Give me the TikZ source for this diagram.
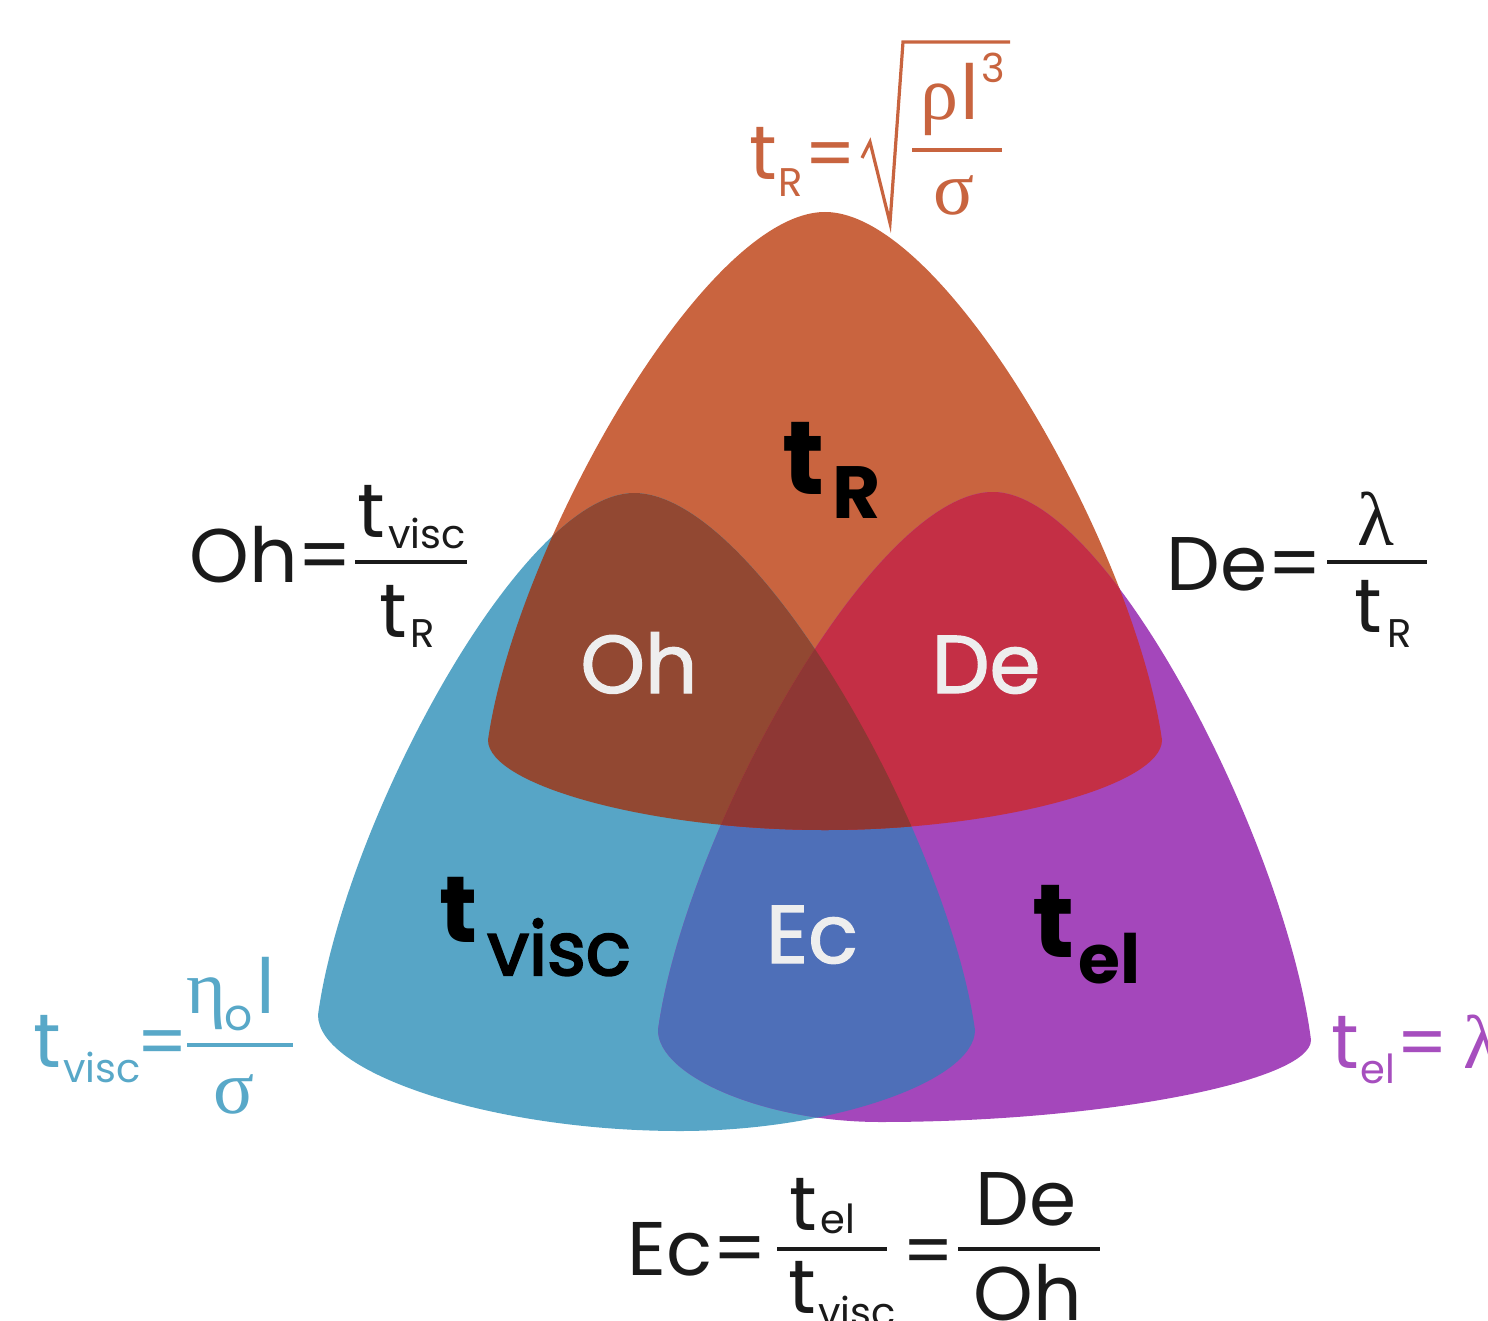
\documentclass[tikz,border=0pt]{standalone}
\usepackage{fontspec}
\setmainfont{Poppins}
\newfontfamily\gr{Liberation Serif}
\newfontfamily\pmed[BoldFont=Poppins, BoldFeatures={FakeBold=1.6}]{Poppins}
\newfontfamily\psemi[BoldFont=Poppins, BoldFeatures={FakeBold=2.8}]{Poppins}
\definecolor{cOr}{HTML}{C9643F}
\definecolor{cBl}{HTML}{57A5C6}
\definecolor{cPu}{HTML}{A447BB}
\definecolor{cOh}{HTML}{924832}
\definecolor{cDe}{HTML}{C42F45}
\definecolor{cEc}{HTML}{4E6FB8}
\definecolor{cCe}{HTML}{8E3734}
\definecolor{tOr}{HTML}{C8643F}
\definecolor{tBl}{HTML}{58A8C8}
\definecolor{tPu}{HTML}{A64EBE}
\definecolor{tBk}{HTML}{1A1A1A}
\definecolor{tWh}{HTML}{EEEEEE}
\newcommand\fs[1]{\fontsize{#1}{#1}\selectfont}
\tikzset{
 blob/.style n args={8}{insert path={(#1,#2) .. controls ({#1-0.36*(#1-#3)},#2) and ({#3+0.08*(#1-#3)},{#2+0.64*(#4-#2)}) .. (#3,#4) .. controls (#3,{#4+0.5*(#8-#4)}) and ({#7-0.52*(#7-#3)},#8) .. (#7,#8) .. controls ({#7+0.52*(#5-#7)},#8) and (#5,{#6+0.5*(#8-#6)}) .. (#5,#6) .. controls ({#5-0.08*(#5-#1)},{#2+0.64*(#6-#2)}) and ({#1+0.36*(#5-#1)},#2) .. cycle}},
 shA/.style={blob={825}{212}{488}{740}{1162}{740}{825}{830}},
 shB/.style={blob={634}{493}{318}{1015}{975}{1030}{680}{1131}},
 shC/.style={blob={993}{492}{658}{1030}{1311}{1040}{880}{1122}},
 txt/.style={inner sep=0pt, anchor=base west},
 ctxt/.style={inner sep=0pt, anchor=base},
 bar/.style={line width=2pt},
}
\begin{document}
\begin{tikzpicture}[x=0.5pt,y=-0.5pt]
\useasboundingbox (0,0) rectangle (1488,1321);
\clip (0,0) rectangle (1488,1321);
% shapes
\fill[cOr, shA];
\fill[cBl, shB];
\fill[cPu, shC];
\begin{scope}
 \clip[shB];
 \fill[cEc, shC];
\end{scope}
\begin{scope}
 \clip[shA];
 \fill[cOh, shB];
 \fill[cDe, shC];
 \clip[shB];
 \fill[cCe, shC];
\end{scope}
% labels inside shapes
\node[txt, text=black] (Lt1) at (782,494) {\fs{52}\bfseries t};
\node[txt, text=black] (Lr1) at (832,518) {\fs{37}\bfseries R};
\node[txt, text=black] (Lt2) at (439,942) {\fs{47}\bfseries t};
\node[txt, text=black] (Lv2) at (487,975) {\fs{37}\psemi\bfseries visc};
\node[txt, text=black] (Lt3) at (1032,957) {\fs{52}\bfseries t};
\node[txt, text=black] (Le3) at (1078,983) {\fs{34}\bfseries el};
\node[ctxt, text=tWh] (LOh) at (639,693) {\fs{41}\pmed\bfseries Oh};
\node[ctxt, text=tWh] (LDe) at (986,693) {\fs{41}\pmed\bfseries De};
\node[ctxt, text=tWh] (LEc) at (812,963) {\fs{41}\pmed\bfseries Ec};
% top formula
\begin{scope}[text=tOr]
 \node[txt] (a1) at (749,180) {\fs{38}t};
 \node[txt] (a2) at (778,197) {\fs{20}R};
 \node[txt] (a3) at (804,180) {\fs{36}=};
 \draw[tOr, line width=1.6pt, line join=miter] (862,158) -- (870,142) -- (890,223) -- (903,42) -- (1010,42);
 \node[txt] (a4) at (920,120) {\fs{38}\gr ρ};
 \node[txt] (a5) at (960,120) {\fs{38}l};
 \node[txt] (a6) at (981,83) {\fs{20}3};
 \draw[tOr, bar] (912,150) -- (1002,150);
 \node[ctxt] (a7) at (954,215) {\fs{38}\gr σ};
\end{scope}
% Oh formula
\begin{scope}[text=tBk]
 \node[txt] (b1) at (189,582) {\fs{38}Oh=};
 \draw[tBk, bar] (355,562) -- (467,562);
 \node[txt] (b2) at (357,537) {\fs{38}t};
 \node[txt] (b3) at (388,548) {\fs{20}visc};
 \node[txt] (b4) at (379,637) {\fs{38}t};
 \node[txt] (b5) at (410,647) {\fs{20}R};
\end{scope}
% De formula
\begin{scope}[text=tBk]
 \node[txt] (c1) at (1166,590) {\fs{38}De=};
 \draw[tBk, bar] (1327,562) -- (1427,562);
 \node[ctxt] (c2) at (1376,545) {\fs{38}\gr λ};
 \node[txt] (c3) at (1354,632) {\fs{38}t};
 \node[txt] (c4) at (1387,647) {\fs{20}R};
\end{scope}
% t_visc formula
\begin{scope}[text=tBl]
 \node[txt] (d1) at (33,1067) {\fs{38}t};
 \node[txt] (d2) at (63,1082) {\fs{20}visc};
 \node[txt] (d3) at (136,1067) {\fs{36}=};
 \draw[tBl, bar] (187,1045) -- (293,1045);
 \node[txt] (d4) at (186,1013) {\fs{38}\gr η};
 \node[txt] (d5) at (224,1030) {\fs{22}o};
 \node[txt] (d6) at (256,1013) {\fs{38}l};
 \node[ctxt] (d7) at (234,1113) {\fs{38}\gr σ};
\end{scope}
% t_el formula
\begin{scope}[text=tPu]
 \node[txt] (e1) at (1331,1068) {\fs{38}t};
 \node[txt] (e2) at (1360,1083) {\fs{20}el};
 \node[txt] (e3) at (1396,1068) {\fs{36}=};
 \node[txt] (e4) at (1463,1068) {\fs{38}\gr λ};
\end{scope}
% Ec formula
\begin{scope}[text=tBk]
 \node[txt] (f1) at (627,1275) {\fs{38}Ec=};
 \draw[tBk, bar] (777,1249) -- (887,1249);
 \node[txt] (f2) at (789,1230) {\fs{38}t};
 \node[txt] (f3) at (820,1233) {\fs{20}el};
 \node[txt] (f4) at (788,1313) {\fs{38}t};
 \node[txt] (f5) at (818,1326) {\fs{20}visc};
 \node[txt] (f6) at (902,1276) {\fs{36}=};
 \draw[tBk, bar] (958,1249) -- (1100,1249);
 \node[ctxt] (f7) at (1026,1225) {\fs{38}De};
 \node[ctxt] (f8) at (1028,1320) {\fs{38}Oh};
\end{scope}
\end{tikzpicture}
\end{document}
